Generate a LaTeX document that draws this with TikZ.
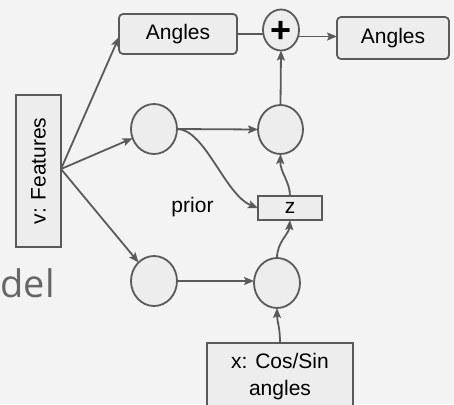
\documentclass[tikz,border=0pt]{standalone}
\usepackage{fontspec}
\setmainfont{Liberation Sans}
\newfontfamily\titlefont{Open Sans}
\usetikzlibrary{shapes.geometric,arrows.meta}
\definecolor{paper}{HTML}{F3F3F3}
\definecolor{ink}{HTML}{5A5A5A}
\definecolor{boxfill}{HTML}{EDEDED}
\definecolor{titlegray}{HTML}{666666}
\begin{document}
\begin{tikzpicture}[x=1pt,y=-1pt,
  every node/.style={inner sep=0pt, outer sep=0pt},
  box/.style={draw=ink, line width=1.8pt, fill=boxfill,
    font=\fontsize{21}{27}\selectfont, align=center},
  rbox/.style={box, rounded corners=4pt},
  unit/.style={draw=ink, line width=1.8pt, fill=boxfill, ellipse},
  link/.style={draw=ink, line width=1.8pt,
    -{Stealth[length=10pt,width=8pt,inset=2pt]}},
  plain/.style={draw=ink, line width=1.8pt}
]
% canvas
\fill[paper] (0,0) rectangle (454,404);
\useasboundingbox (0,0) rectangle (454,404);

% partial title at the left edge
\node[anchor=base west, font=\titlefont\fontsize{38}{40}\selectfont,
  text=titlegray] (title) at (0.5,297) {del};

% inputs and outputs
\node[box, rotate=90, minimum width=152pt, minimum height=45pt] (vf)
  at (38.5,171) {v: Features};
\node[rbox, minimum width=118pt, minimum height=40pt] (a1) at (178,34) {Angles};
\node[rbox, minimum width=112pt, minimum height=42pt] (a2) at (393,38) {Angles};
\node[box, minimum width=146pt, minimum height=68pt] (xb) at (280,377)
  {x: Cos/Sin\\angles};
\node[box, minimum width=64pt, minimum height=24pt] (z) at (290,208) {z};
\node[font=\fontsize{21}{26}\selectfont, anchor=base] (prior) at (192.5,212) {prior};

% sum
\node[unit, minimum width=36pt, minimum height=41pt] (plus) at (281,30) {};
\node[font=\fontsize{36}{36}\bfseries\selectfont] (plussign)
  at ([yshift=-2pt]plus.center) {+};

% hidden units
\node[unit, minimum width=46pt, minimum height=50pt] (c1) at (154,129) {};
\node[unit, minimum width=45pt, minimum height=49pt] (c2) at (280.5,129.5) {};
\node[unit, minimum width=46pt, minimum height=50pt] (c3) at (154,281) {};
\node[unit, minimum width=46pt, minimum height=50pt] (c4) at (277,283) {};

% connectors
\coordinate (fan) at ([yshift=2pt]vf.south);
\draw[link] (fan) -- ([yshift=-3pt]a1.west);
\draw[link] (fan) -- (c1);
\draw[link] (fan) -- (c3);
\draw[plain] (a1.east) -- (a1.east -| plus.west);
\draw[link] ([yshift=1.5pt]a2.west -| plus.east) -- ([yshift=1.5pt]a2.west);
\draw[link] (c2.north) -- (plus.south);
\draw[link] (c1.east) -- (c2.west);
\draw[link] (c1.east) .. controls (205,129) and (225,195) .. (z.west);
\draw[link] (c3.east) -- (c3.east -| c4.west);
\draw[link] (c4.north) .. controls (277,242) and (289,234) .. (z.south);
\draw[link] (z.north) .. controls (290,182) and (280,172) .. (c2.south);
\draw[link] (xb.north) .. controls (280,326) and (277,322) .. (c4.south);
\end{tikzpicture}
\end{document}
